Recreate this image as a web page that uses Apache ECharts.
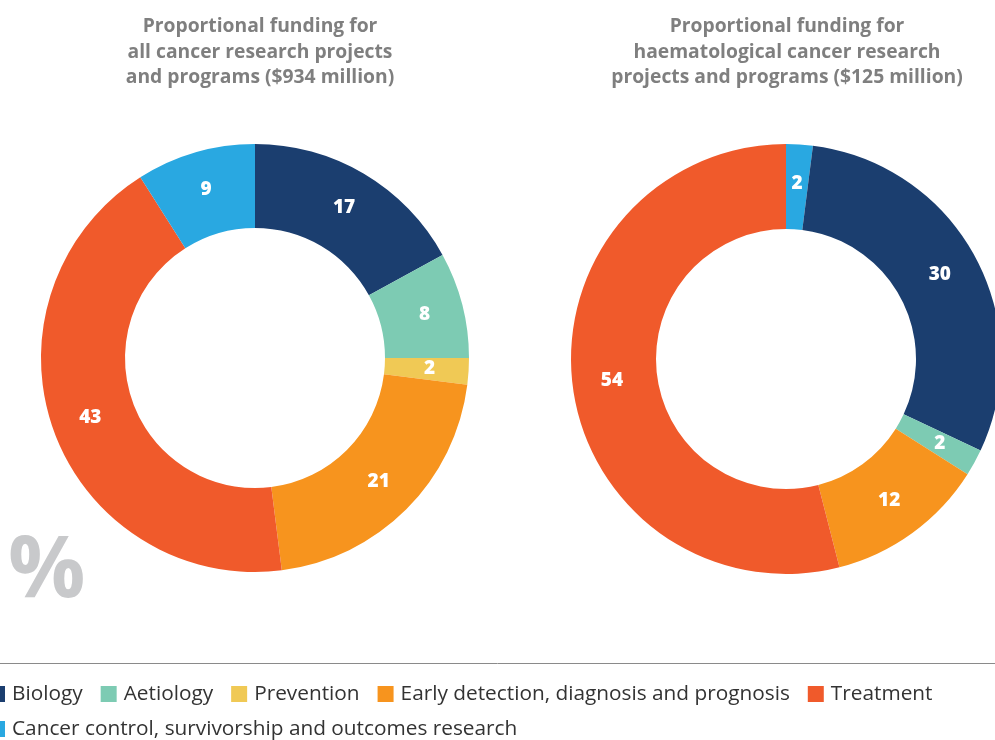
<!DOCTYPE html>
<html>
<head>
<meta charset="utf-8">
<script src="https://cdn.jsdelivr.net/npm/echarts@6/dist/echarts.min.js"></script>
<style>
html,body{margin:0;padding:0;background:#fff;}
#chart{width:995px;height:740px;}
</style>
</head>
<body>
<div id="chart"></div>
<script>
var categories = ['Biology', 'Aetiology', 'Prevention', 'Early detection, diagnosis and prognosis', 'Treatment', 'Cancer control, survivorship and outcomes research'];
var colors = ['#1b3e6f', '#7dcbb3', '#f0c955', '#f7941e', '#f05a2b', '#29a8e1'];
var allValues = [17, 8, 2, 21, 43, 9];
var haemCategories = ['Cancer control, survivorship and outcomes research', 'Biology', 'Aetiology', 'Prevention', 'Early detection, diagnosis and prognosis', 'Treatment'];
var haemValues = [2, 30, 2, 0, 12, 54];
var titleAll = 'Proportional funding for\nall cancer research projects\nand programs ($934 million)';
var titleHaem = 'Proportional funding for\nhaematological cancer research\nprojects and programs ($125 million)';

var FONT = '"Open Sans", sans-serif';
function colorOf(name){ return colors[categories.indexOf(name)]; }
function mkData(names, vals){
  return names.map(function(n, i){ return {name: n, value: vals[i], itemStyle: {color: colorOf(n)}}; });
}
var labelCfg = {
  show: true, position: 'inside', color: '#fff', fontFamily: FONT, fontWeight: 800, fontSize: 19,
  formatter: function(p){ return p.value ? String(p.value) : ''; }
};
var legendText = {fontFamily: FONT, fontSize: 20.8, color: '#333', padding: [0, 0, 0, 2], lineHeight: 22};
var chart = echarts.init(document.getElementById('chart'));
chart.setOption({
  animation: false,
  title: [
    {text: titleAll, left: 255, top: 9, textAlign: 'center', textStyle: {fontFamily: FONT, fontWeight: 'bold', fontSize: 19.3, color: '#7f7f7f', lineHeight: 25.5}},
    {text: titleHaem, left: 782, top: 9, textAlign: 'center', textStyle: {fontFamily: FONT, fontWeight: 'bold', fontSize: 19.3, color: '#7f7f7f', lineHeight: 25.5}}
  ],
  legend: [
    {data: categories.slice(0, 5), left: -16, top: 678, icon: 'rect', itemWidth: 16, itemHeight: 16, itemGap: 18,
     selectedMode: false, textStyle: legendText},
    {data: categories.slice(5), left: -16, top: 713, icon: 'rect', itemWidth: 16, itemHeight: 16, itemGap: 18,
     selectedMode: false, textStyle: legendText}
  ],
  graphic: [
    {type: 'line', shape: {x1: 0, y1: 663.5, x2: 995, y2: 663.5}, style: {stroke: '#8a8a8a', lineWidth: 1}},
    {type: 'text', left: 8, top: 529, style: {text: '%', fontFamily: FONT, fontWeight: 'bold', fontSize: 86, fill: '#c8c9cb'}}
  ],
  series: [
    {type: 'pie', center: [255, 358], radius: [130, 214], startAngle: 90, clockwise: true,
     label: labelCfg, labelLine: {show: false}, emphasis: {disabled: true}, silent: true,
     data: mkData(categories, allValues)},
    {type: 'pie', center: [786, 359], radius: [130, 215], startAngle: 90, clockwise: true, minAngle: 0,
     label: labelCfg, labelLine: {show: false}, emphasis: {disabled: true}, silent: true,
     data: mkData(haemCategories, haemValues)}
  ]
});
</script>
</body>
</html>
